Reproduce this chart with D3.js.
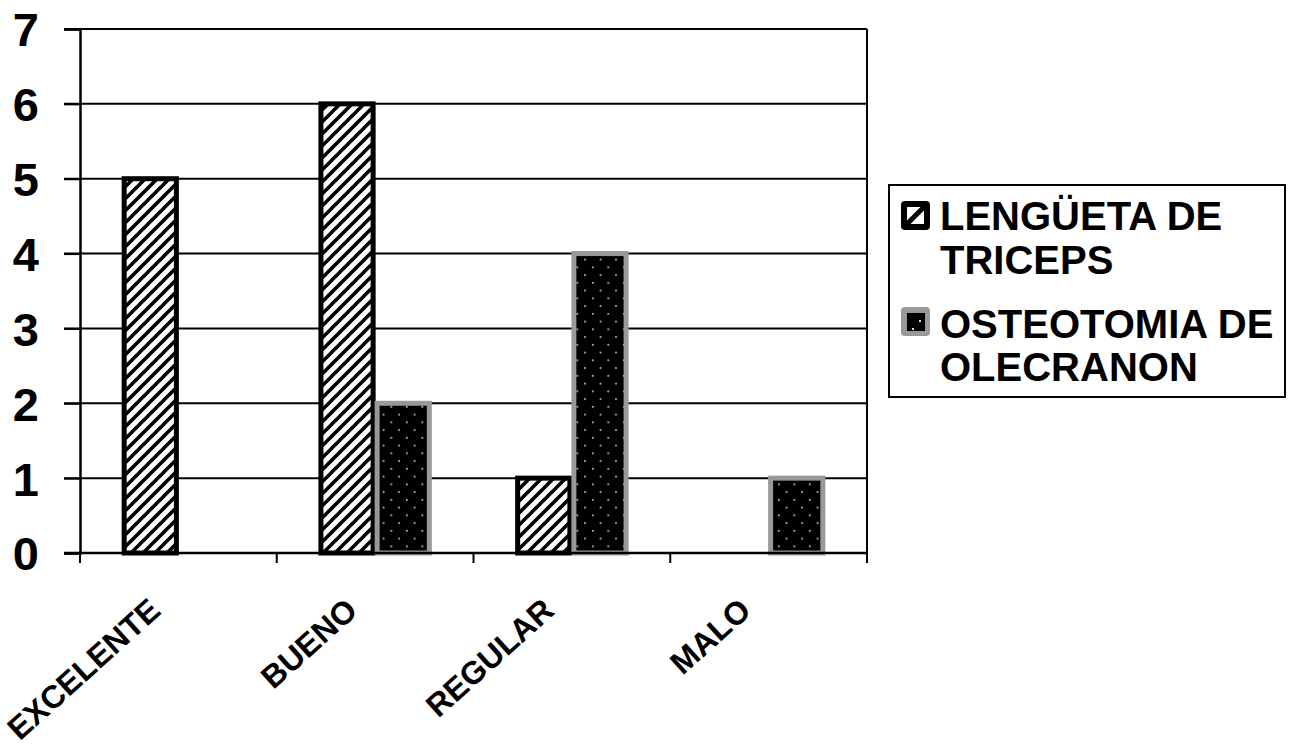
<!DOCTYPE html>
<html>
<head>
<meta charset="utf-8">
<script src="https://cdn.jsdelivr.net/npm/d3@7/dist/d3.min.js"></script>
<style>
  html, body { margin: 0; padding: 0; background: #fff; }
  svg { display: block; font-family: "Liberation Sans", Arial, sans-serif; font-weight: bold; }
</style>
</head>
<body>
<svg id="chart" width="1289" height="749"></svg>
<script>
// Resultados por grupo de tratamiento
const categories = ["EXCELENTE", "BUENO", "REGULAR", "MALO"];
const seriesNames = ["LENGÜETA DE TRICEPS", "OSTEOTOMIA DE OLECRANON"];
const legendLines = [["LENGÜETA DE", "TRICEPS"], ["OSTEOTOMIA DE", "OLECRANON"]];
const lengueta = [5, 6, 1, 0];
const osteotomia = [0, 2, 4, 1];
const yTicks = [0, 1, 2, 3, 4, 5, 6, 7];

const svg = d3.select("#chart");
const plot = { left: 80, right: 867, top: 29, bottom: 553 };

const x0 = d3.scaleBand().domain(categories).range([plot.left, plot.right]).padding(0);
const x1 = d3.scaleBand().domain(seriesNames).range([0, x0.bandwidth()])
  .paddingInner(0).paddingOuter(0.75);
const y = d3.scaleLinear().domain([0, 7]).range([plot.bottom, plot.top]);

// Fill patterns
const defs = svg.append("defs");
const hatch = defs.append("pattern").attr("id", "hatch")
  .attr("patternUnits", "userSpaceOnUse").attr("width", 12).attr("height", 12);
hatch.append("rect").attr("width", 12).attr("height", 12).attr("fill", "#fff");
hatch.append("path").attr("d", "M-3,3 L3,-3 M0,12 L12,0 M9,15 L15,9")
  .attr("stroke", "#000").attr("stroke-width", 3.6);

const dots = defs.append("pattern").attr("id", "dots")
  .attr("patternUnits", "userSpaceOnUse").attr("width", 15.5).attr("height", 15.5);
dots.append("rect").attr("width", 15.5).attr("height", 15.5).attr("fill", "#000");
dots.append("rect").attr("x", 3).attr("y", 3).attr("width", 1.6).attr("height", 1.6).attr("fill", "#ddd");
dots.append("rect").attr("x", 10.75).attr("y", 10.75).attr("width", 1.6).attr("height", 1.6).attr("fill", "#ddd");

// Gridlines
svg.append("g").selectAll("line").data(yTicks).join("line")
  .attr("x1", plot.left - 16).attr("x2", plot.right)
  .attr("y1", d => y(d)).attr("y2", d => y(d))
  .attr("stroke", "#000").attr("stroke-width", 2);

// Right border of plot area
svg.append("line").attr("x1", plot.right).attr("x2", plot.right)
  .attr("y1", plot.top).attr("y2", plot.bottom)
  .attr("stroke", "#000").attr("stroke-width", 2);

// Y axis
const yAxis = svg.append("g").attr("transform", `translate(${plot.left},0)`)
  .call(d3.axisLeft(y).tickValues(yTicks).tickSize(16).tickPadding(25).tickFormat(d3.format("d")));
yAxis.select(".domain").attr("stroke", "#000").attr("stroke-width", 2.5);
yAxis.selectAll(".tick line").attr("stroke", "#000").attr("stroke-width", 2);
yAxis.selectAll(".tick text").attr("font-size", 47).attr("font-weight", "bold")
  .attr("font-family", "Liberation Sans, Arial, sans-serif").attr("fill", "#000").attr("dy", "0.36em");

// Bars
const specs = [
  { name: seriesNames[0], values: lengueta, fill: "url(#hatch)", stroke: "#000" },
  { name: seriesNames[1], values: osteotomia, fill: "url(#dots)", stroke: "#999" }
];
const bw = x1.bandwidth();
specs.forEach(s => {
  svg.append("g").selectAll("rect")
    .data(categories.map((c, i) => ({ c, v: s.values[i] })).filter(d => d.v > 0))
    .join("rect")
    .attr("x", d => x0(d.c) + x1(s.name) + 2)
    .attr("width", bw - 4)
    .attr("y", d => y(d.v))
    .attr("height", d => y(0) - y(d.v))
    .attr("fill", s.fill)
    .attr("stroke", s.stroke)
    .attr("stroke-width", 5);
});

// X axis
const xAxis = svg.append("g").attr("transform", `translate(0,${plot.bottom})`);
xAxis.append("line").attr("x1", plot.left - 16).attr("x2", plot.right)
  .attr("stroke", "#000").attr("stroke-width", 2.5);
const bounds = categories.map(c => x0(c)).concat([plot.right]);
xAxis.selectAll(".tk").data(bounds).join("line").attr("class", "tk")
  .attr("x1", d => d).attr("x2", d => d).attr("y1", 0).attr("y2", 10)
  .attr("stroke", "#000").attr("stroke-width", 2);
xAxis.selectAll("text").data(categories).join("text")
  .attr("transform", d => `translate(${x0(d) + x0.bandwidth() / 2 - 16},60) rotate(-42)`)
  .attr("text-anchor", "end")
  .attr("font-size", 32).attr("font-weight", "bold").attr("fill", "#000")
  .text(d => d);

// Legend
const legend = svg.append("g");
legend.append("rect").attr("x", 889).attr("y", 185).attr("width", 396).attr("height", 212)
  .attr("fill", "#fff").attr("stroke", "#000").attr("stroke-width", 2);
const markerY = [201, 307];
const textY = [[230, 274], [338, 381]];
// marker 1: hatched square
legend.append("rect").attr("x", 901).attr("y", markerY[0]).attr("width", 29).attr("height", 29)
  .attr("rx", 4).attr("fill", "#000");
legend.append("rect").attr("x", 907).attr("y", markerY[0] + 6).attr("width", 17).attr("height", 17)
  .attr("fill", "#fff");
legend.append("path").attr("d", `M907,${markerY[0] + 23} L924,${markerY[0] + 6}`)
  .attr("stroke", "#000").attr("stroke-width", 5);
// marker 2: dotted square
legend.append("rect").attr("x", 901).attr("y", markerY[1]).attr("width", 29).attr("height", 29)
  .attr("rx", 4).attr("fill", "#999");
legend.append("rect").attr("x", 907).attr("y", markerY[1] + 6).attr("width", 18).attr("height", 18)
  .attr("fill", "#000");
legend.append("rect").attr("x", 919).attr("y", markerY[1] + 13).attr("width", 2).attr("height", 2).attr("fill", "#ddd");
legend.append("rect").attr("x", 912).attr("y", markerY[1] + 21).attr("width", 2).attr("height", 2).attr("fill", "#ddd");
legendLines.forEach((lines, i) => {
  lines.forEach((t, j) => {
    legend.append("text").attr("x", 940).attr("y", textY[i][j])
      .attr("font-size", 40).attr("font-weight", "bold").attr("fill", "#000").text(t);
  });
});
</script>
</body>
</html>
